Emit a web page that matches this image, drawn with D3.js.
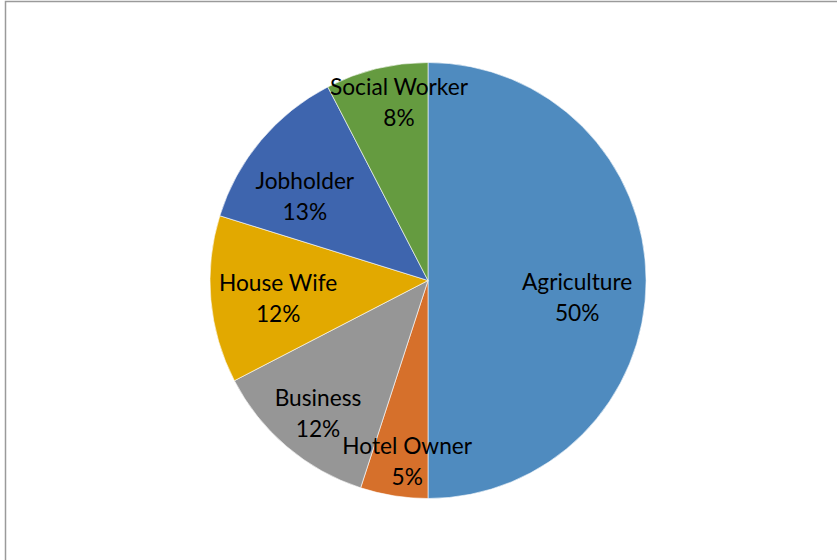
<!DOCTYPE html>
<html>
<head>
<meta charset="utf-8">
<script src="https://d3js.org/d3.v7.min.js"></script>
<style>
    body { margin: 0; background: #fff; }
    svg { display: block; }
</style>
</head>
<body>
<div id="chart"></div>
<script>
const categories = ["Agriculture", "Hotel Owner", "Business", "House Wife", "Jobholder", "Social Worker"];
const shares     = [50, 5, 12.4, 12.4, 12.6, 7.6];
const colors     = ["#4f8bbf", "#d6702b", "#969696", "#e2a900", "#3e65ae", "#659b40"];

let width  = 837;
let height = 560;

let svg = d3.select("#chart")
    .append("svg")
    .attr("width", width)
    .attr("height", height);

/////////////
/// Frame ///
/////////////

svg.append("rect")
    .attr("x", 5.5)
    .attr("y", 1.5)
    .attr("width", 1000)
    .attr("height", 1000)
    .attr("fill", "none")
    .attr("stroke", "#9a9a9a")
    .attr("stroke-width", 1.5);

///////////
/// Pie ///
///////////

let cx = 428;
let cy = 280.5;
let radius = 218;

let data = categories.map((c, i) => ({ name: c, value: shares[i], color: colors[i] }));

let pie = d3.pie()
    .sort(null)
    .value(d => d.value);

let arc = d3.arc()
    .innerRadius(0)
    .outerRadius(radius);

let g = svg.append("g")
    .attr("transform", "translate(" + cx + "," + cy + ")");

let arcs = pie(data);

g.selectAll("path")
    .data(arcs)
    .enter()
    .append("path")
    .attr("d", arc)
    .attr("fill", d => d.data.color)
    .attr("stroke", "#ffffff")
    .attr("stroke-width", 0.6);

//////////////
/// Labels ///
//////////////

// label centre: fraction of radius, and angle shift (deg) from the slice mid angle
let labelRadius = [0.688, 0.831, 0.788, 0.692, 0.686, 0.834];
let labelShift  = [6.1, -2.4, -0.5, -1.5, -5.4, 4.5];

let labels = g.selectAll("text")
    .data(arcs)
    .enter()
    .append("text")
    .attr("text-anchor", "middle")
    .attr("style", "font-family: Lato, 'Open Sans', sans-serif; font-size: 22.7px;")
    .attr("fill", "#000")
    .attr("transform", (d, i) => {
        let a = (d.startAngle + d.endAngle) / 2 + labelShift[i] * Math.PI / 180;
        let r = radius * labelRadius[i];
        return "translate(" + (Math.sin(a) * r) + "," + (-Math.cos(a) * r) + ")";
    });

labels.append("tspan")
    .attr("x", 0)
    .attr("y", -6.5)
    .text(d => d.data.name);

labels.append("tspan")
    .attr("x", 0)
    .attr("y", 24.5)
    .text(d => Math.round(d.data.value) + "%");
</script>
</body>
</html>
